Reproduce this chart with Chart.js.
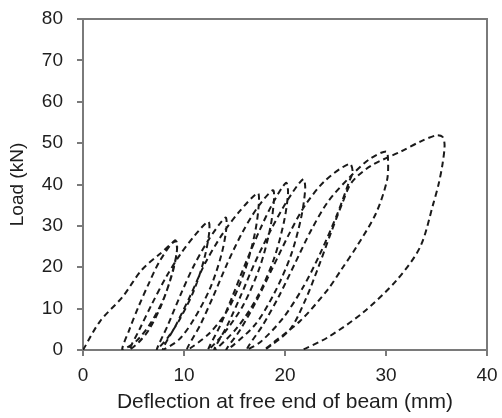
<!DOCTYPE html>
<html>
<head>
<meta charset="utf-8">
<script src="https://cdn.jsdelivr.net/npm/chart.js@4"></script>
<style>
  html, body { margin: 0; padding: 0; background: #fff; }
  #wrap { width: 502px; height: 418px; }
</style>
</head>
<body>
<div id="wrap"><canvas id="c" width="502" height="418"></canvas></div>
<script>
// tick values
const xTicks = [0, 10, 20, 30, 40];
const yTicks = [0, 10, 20, 30, 40, 50, 60, 70, 80];

// load–deflection path, cycle after cycle
const deflectionMm = [
  0, 1.7, 3.9, 5.8, 7.6, 9.2,          9.3, 8.9, 8.0, 6.7, 5.3, 3.9,
  4.6, 5.5, 6.5, 7.6, 9.1,             9.3, 8.7, 7.7, 6.5, 5.5, 4.6,
  5.6, 6.8, 8.2, 9.6, 11.0, 12.4,      12.5, 12.0, 11.0, 9.6, 8.4, 7.3,
  8.4, 9.6, 10.9, 12.4, 14.1,          14.2, 13.7, 12.6, 11.0, 9.5, 7.9,
  9.2, 10.6, 12.1, 13.8, 15.5, 17.3,   17.4, 17.0, 16.0, 14.4, 12.5, 10.3,
  11.6, 12.9, 14.3, 15.8, 17.3, 18.8,  18.9, 18.5, 17.5, 15.9, 14.1, 12.4,
  13.6, 14.8, 16.1, 17.5, 18.8, 20.1,  20.3, 19.9, 18.9, 17.3, 15.3, 13.0,
  14.3, 15.6, 17.0, 18.6, 20.2, 21.8,  22.0, 21.6, 20.6, 19.0, 17.0, 14.2,
  15.6, 17.2, 18.8, 20.4, 22.0, 24.0, 26.4,
  26.7, 26.4, 25.2, 23.5, 21.8, 19.8, 17.6, 16.2,
  17.8, 19.4, 21.0, 22.6, 24.3, 26.5, 28.3, 30.0,
  30.2, 30.1, 29.0, 27.1, 25.6, 24.2, 21.5, 18.8, 18.0,
  20.5, 22.0, 23.3, 24.5, 25.6, 26.6, 28.5, 31.5, 33.5, 35.0,
  35.6, 35.8, 35.6, 35.2, 34.7, 33.4, 31.1, 27.7, 24.2, 21.7
];
const loadKn = [
  0, 7, 12.8, 19.3, 23.2, 26.3,        24, 19, 12.5, 6.5, 2.2, 0,
  5, 10.5, 16, 21.5, 26.5,             24, 17.5, 10.5, 4.8, 1.8, 0,
  5, 11, 17.5, 23, 27.5, 31,           28.5, 22, 14.5, 7.5, 3, 0,
  6, 13, 20, 26.5, 32,                 29.5, 23, 15, 7.5, 2.5, 0,
  6, 13, 21, 28, 33.5, 37.9,           35, 28, 19, 10, 4, 0,
  6, 13, 21, 28.5, 34.5, 38.6,         36, 29, 20, 11, 4.5, 0,
  6, 13, 21, 29, 35.5, 40.4,           38, 31, 22, 13, 5.5, 0,
  6, 13, 21, 29, 36, 41.3,             39, 32, 23, 14, 6, 0,
  5, 12, 20, 28, 35, 41, 45,
  43, 41, 33, 23.4, 15.2, 7.7, 2, 0,
  6, 13, 21, 29, 36, 42, 46, 48,
  46, 41, 33, 25, 19.5, 14.5, 7, 1.7, 0,
  5, 12, 20, 28, 35, 40.5, 44.5, 48, 50.5, 51.9,
  51.5, 49.5, 45, 40, 35.5, 25, 17, 9, 3, 0
];

const AXIS_GREY = '#7a7a7a';
const TEXT = '#1e1e1e';
const FONT = 'Liberation Sans, Arial, sans-serif';

// top and right edges of the plot box
const frame = {
  id: 'frame',
  afterDraw(chart) {
    const { ctx, chartArea: a } = chart;
    ctx.save();
    ctx.strokeStyle = AXIS_GREY;
    ctx.lineWidth = 2;
    ctx.beginPath();
    ctx.moveTo(a.left, a.top);
    ctx.lineTo(a.right, a.top);
    ctx.lineTo(a.right, a.bottom);
    ctx.stroke();
    ctx.restore();
  }
};

new Chart(document.getElementById('c'), {
  type: 'scatter',
  data: {
    datasets: [{
      data: deflectionMm.map((x, i) => ({ x, y: loadKn[i] })),
      showLine: true,
      borderColor: '#1a1a1a',
      borderWidth: 2,
      borderDash: [6, 4],
      pointRadius: 0,
      tension: 0.3,
      fill: false
    }]
  },
  options: {
    responsive: false,
    animation: false,
    layout: { padding: { left: 0, right: 15, top: 19, bottom: 0 } },
    plugins: { legend: { display: false }, tooltip: { enabled: false } },
    scales: {
      x: {
        type: 'linear',
        min: 0, max: 40,
        afterBuildTicks: s => { s.ticks = xTicks.map(v => ({ value: v })); },
        afterFit: s => { s.height = 68; s.paddingLeft = 0; s.paddingRight = 0; },
        border: { color: AXIS_GREY, width: 2 },
        grid: { drawOnChartArea: false, drawTicks: true, tickLength: 6, color: AXIS_GREY, lineWidth: 2 },
        ticks: { color: TEXT, font: { family: FONT, size: 19 }, padding: 8 },
        title: { display: true, text: 'Deflection at free end of beam (mm)', color: TEXT,
                 font: { family: FONT, size: 21 }, padding: { top: 2, bottom: 3 } }
      },
      y: {
        type: 'linear',
        min: 0, max: 80,
        afterBuildTicks: s => { s.ticks = yTicks.map(v => ({ value: v })); },
        afterFit: s => { s.width = 83; s.paddingTop = 0; s.paddingBottom = 0; },
        border: { color: AXIS_GREY, width: 2 },
        grid: { drawOnChartArea: false, drawTicks: true, tickLength: 6, color: AXIS_GREY, lineWidth: 2 },
        ticks: { color: TEXT, font: { family: FONT, size: 19 }, padding: 14 },
        title: { display: true, text: 'Load (kN)', color: TEXT,
                 font: { family: FONT, size: 19 }, padding: { top: 6, bottom: 4 } }
      }
    }
  },
  plugins: [frame]
});
</script>
</body>
</html>
